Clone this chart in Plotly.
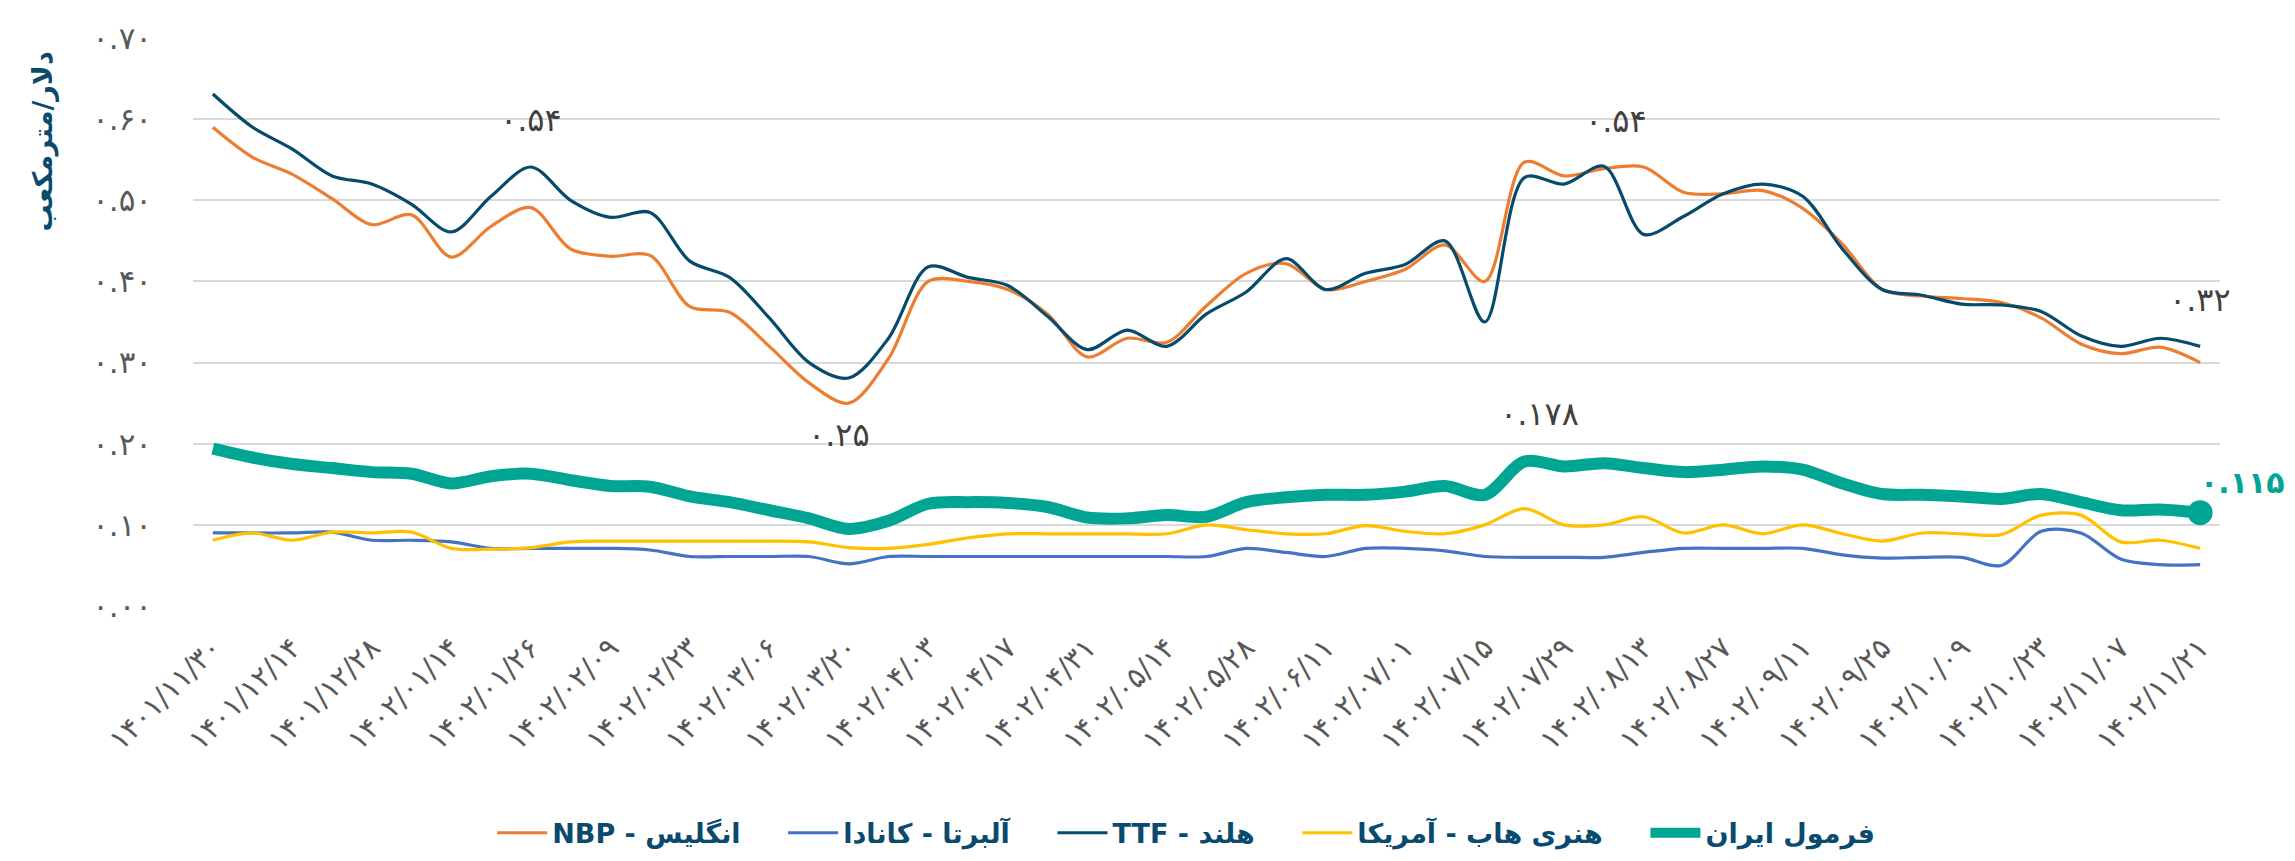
import plotly.graph_objects as go

FA = str.maketrans("0123456789", "۰۱۲۳۴۵۶۷۸۹")

# ---- tick labels (every second week) ----
date_labels = ["1401/11/30", "1401/12/14", "1401/12/28", "1402/01/14", "1402/01/26",
               "1402/02/09", "1402/02/23", "1402/03/06", "1402/03/20", "1402/04/03",
               "1402/04/17", "1402/04/31", "1402/05/14", "1402/05/28", "1402/06/11",
               "1402/07/01", "1402/07/15", "1402/07/29", "1402/08/13", "1402/08/27",
               "1402/09/11", "1402/09/25", "1402/10/09", "1402/10/23", "1402/11/07",
               "1402/11/21"]
y_ticks = [0.0, 0.1, 0.2, 0.3, 0.4, 0.5, 0.6, 0.7]

# ---- series (51 weekly points) ----
nbp = [0.590, 0.553, 0.532, 0.502, 0.470, 0.482, 0.430, 0.468, 0.491, 0.440,
       0.431, 0.432, 0.369, 0.362, 0.320, 0.275, 0.250, 0.305, 0.400, 0.400,
       0.390, 0.360, 0.307, 0.330, 0.325, 0.370, 0.410, 0.422, 0.390, 0.400,
       0.415, 0.445, 0.400, 0.547, 0.530, 0.539, 0.541, 0.510, 0.508, 0.512,
       0.490, 0.446, 0.390, 0.382, 0.379, 0.374, 0.355, 0.323, 0.311, 0.319,
       0.300]
ttf = [0.631, 0.590, 0.563, 0.530, 0.520, 0.495, 0.461, 0.505, 0.541, 0.500,
       0.479, 0.485, 0.425, 0.405, 0.355, 0.300, 0.281, 0.330, 0.418, 0.405,
       0.395, 0.357, 0.316, 0.340, 0.320, 0.360, 0.387, 0.428, 0.390, 0.410,
       0.421, 0.450, 0.350, 0.528, 0.520, 0.542, 0.458, 0.480, 0.508, 0.520,
       0.505, 0.440, 0.390, 0.383, 0.372, 0.371, 0.363, 0.333, 0.320, 0.330,
       0.320]
alberta = [0.090, 0.090, 0.090, 0.091, 0.081, 0.081, 0.079, 0.071, 0.071, 0.071,
           0.071, 0.069, 0.061, 0.061, 0.061, 0.061, 0.052, 0.061, 0.061, 0.061,
           0.061, 0.061, 0.061, 0.061, 0.061, 0.061, 0.071, 0.066, 0.061, 0.071,
           0.071, 0.068, 0.061, 0.060, 0.060, 0.060, 0.066, 0.071, 0.071, 0.071,
           0.071, 0.063, 0.059, 0.060, 0.060, 0.050, 0.092, 0.090, 0.058, 0.051,
           0.051]
henry = [0.081, 0.090, 0.081, 0.091, 0.090, 0.091, 0.071, 0.070, 0.072, 0.079,
         0.080, 0.080, 0.080, 0.080, 0.080, 0.079, 0.072, 0.071, 0.076, 0.084,
         0.089, 0.089, 0.089, 0.089, 0.089, 0.100, 0.094, 0.089, 0.089, 0.099,
         0.092, 0.089, 0.100, 0.120, 0.100, 0.100, 0.110, 0.090, 0.100, 0.089,
         0.100, 0.089, 0.080, 0.090, 0.089, 0.088, 0.112, 0.112, 0.079, 0.081,
         0.071]
iran = [0.194, 0.183, 0.175, 0.170, 0.165, 0.163, 0.151, 0.160, 0.163, 0.155,
        0.148, 0.147, 0.135, 0.128, 0.118, 0.108, 0.095, 0.105, 0.126, 0.128,
        0.127, 0.122, 0.109, 0.108, 0.112, 0.110, 0.128, 0.134, 0.137, 0.137,
        0.141, 0.148, 0.137, 0.178, 0.172, 0.176, 0.170, 0.165, 0.168, 0.172,
        0.168, 0.151, 0.138, 0.137, 0.135, 0.132, 0.138, 0.128, 0.118, 0.119,
        0.115]

x = list(range(len(iran)))
tick_idx = list(range(0, len(iran), 2))

names = {
    "nbp": "NBP - انگلیس",
    "alberta": "آلبرتا - کانادا",
    "ttf": "TTF - هلند",
    "henry": "هنری هاب - آمریکا",
    "iran": "فرمول ایران",
}
colors = {
    "nbp": "#ED7D31",
    "alberta": "#4472C4",
    "ttf": "#064A6C",
    "henry": "#FFC000",
    "iran": "#00A693",
}
PAD = "\u00a0" * 4

fig = go.Figure()
for key, ys, w in [("nbp", nbp, 3.2), ("alberta", alberta, 3.2), ("ttf", ttf, 3.2),
                   ("henry", henry, 3.2), ("iran", iran, 12)]:
    fig.add_trace(go.Scatter(
        x=x, y=ys, mode="lines", name=names[key] + (PAD if key != "iran" else ""),
        line=dict(color=colors[key], width=w, shape="spline", smoothing=0.9),
        hoverinfo="skip"))

# end marker on Iran formula
fig.add_trace(go.Scatter(x=[x[-1]], y=[iran[-1]], mode="markers", showlegend=False,
                         marker=dict(color=colors["iran"], size=25), hoverinfo="skip"))

def fa_num(v, d):
    return f"{v:.{d}f}".translate(FA)

label_font = dict(family="DejaVu Sans", size=32, color="#404040")
labels = [
    (8, ttf[8], 2, 0, 47),
    (16, nbp[16], 2, -10, -32),
    (35, ttf[35], 2, 12, 45),
    (33, iran[33], 3, 15, 48),
    (50, ttf[50], 2, 0, 46),
]
for i, v, d, xs, ys in labels:
    fig.add_annotation(x=x[i], y=v, text=fa_num(v, d), showarrow=False,
                       xshift=xs, yshift=ys, font=label_font)
fig.add_annotation(x=x[-1], y=iran[-1], text=fa_num(iran[-1], 3), showarrow=False,
                   xshift=42, yshift=30,
                   font=dict(family="DejaVu Sans", size=30, color=colors["iran"], weight="bold"))

# y-axis title
fig.add_annotation(xref="paper", yref="paper", x=-0.074, y=0.818, text="دلار/مترمکعب",
                   textangle=-90, showarrow=False, xanchor="center", yanchor="middle",
                   font=dict(family="DejaVu Sans", size=27, color="#0B4A6F", weight="bold"))

fig.update_layout(
    width=2295, height=861,
    margin=dict(l=185, r=83, t=27, b=251),
    paper_bgcolor="white", plot_bgcolor="white",
    showlegend=True,
    legend=dict(orientation="h", x=0.49, xanchor="center", y=-0.40, yanchor="middle",
                font=dict(family="DejaVu Sans", size=27, color="#0B4A6F", weight="bold"),
                itemwidth=50, tracegroupgap=0),
    xaxis=dict(range=[-0.5, len(iran) - 0.5], tickmode="array",
               tickvals=[x[i] for i in tick_idx],
               ticktext=[s.translate(FA) for s in date_labels],
               tickangle=-45, showgrid=False, zeroline=False, showline=False,
               ticks="", ticklabelstandoff=18,
               tickfont=dict(family="DejaVu Sans", size=29, color="#595959")),
    yaxis=dict(range=[0, 0.7], tickmode="array", tickvals=y_ticks,
               ticktext=[f"{v:.2f}".translate(FA) for v in y_ticks],
               showgrid=True, gridcolor="#D9D9D9", gridwidth=2,
               zeroline=False, showline=False, ticks="", ticklabelstandoff=40,
               tickfont=dict(family="DejaVu Sans", size=31, color="#595959")),
)

fig.write_html("out.html")
